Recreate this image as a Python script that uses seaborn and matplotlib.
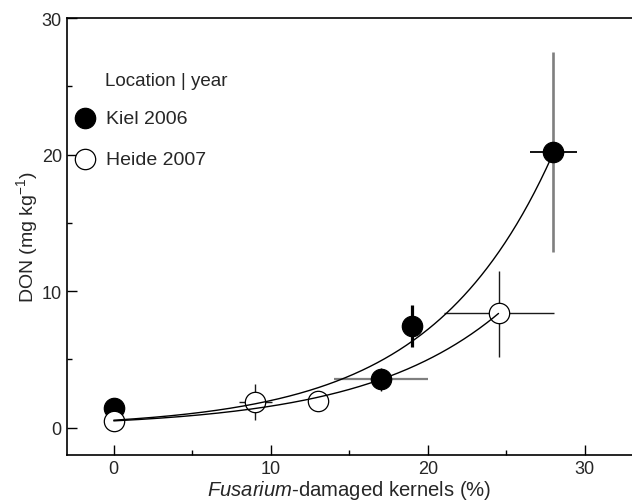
import numpy as np
import matplotlib
matplotlib.use("Agg")
import matplotlib.pyplot as plt
import seaborn as sns
from matplotlib.ticker import MultipleLocator

# ---------------- data ----------------
kiel_x = [0, 17, 19, 28]
kiel_y = [1.46, 3.54, 7.44, 20.2]
kiel_xlo = [np.nan, 14.0, np.nan, 26.5]
kiel_xhi = [np.nan, 20.0, np.nan, 29.5]
kiel_ylo = [np.nan, 2.7, 5.9, 12.9]
kiel_yhi = [np.nan, 4.4, 9.0, 27.5]

heide_x = [0, 9, 13, 24.5]
heide_y = [0.49, 1.88, 1.93, 8.37]
heide_xlo = [np.nan, 7.95, np.nan, 21.05]
heide_xhi = [np.nan, 10.05, np.nan, 28.05]
heide_ylo = [np.nan, 0.56, np.nan, 5.2]
heide_yhi = [np.nan, 3.17, np.nan, 11.5]

# exponential fit parameters y = a * exp(b * x)
kiel_fit = (0.55, 0.1286)
heide_fit = (0.5, 0.115)

series_labels = ["Kiel 2006", "Heide 2007"]
legend_title = "Location | year"
x_ticks = [0, 10, 20, 30]
y_ticks = [0, 10, 20, 30]
x_label = r"$\mathit{Fusarium}$-damaged kernels (%)"
y_label = r"DON (mg kg$^{-1}$)"

# ---------------- styles ----------------
kiel_xerr_colors = ["black", "#7f7f7f", "black", "black"]
kiel_xerr_widths = [1.0, 1.6, 1.0, 1.3]
kiel_yerr_colors = ["black", "black", "black", "#7f7f7f"]
kiel_yerr_widths = [1.0, 1.0, 2.3, 1.9]

sns.set_style("ticks")
plt.rcParams["font.family"] = ["Liberation Sans", "DejaVu Sans"]
plt.rcParams["mathtext.fontset"] = "custom"
plt.rcParams["mathtext.rm"] = "Liberation Sans"
plt.rcParams["mathtext.it"] = "Liberation Sans:italic"
plt.rcParams["mathtext.default"] = "regular"

fig = plt.figure(figsize=(6.32, 5.02), dpi=100)
ax = fig.add_axes([0.1055, 0.0916, 0.8945, 0.8704])

# error bars
ax.hlines(kiel_y, kiel_xlo, kiel_xhi, colors=kiel_xerr_colors,
          linewidths=kiel_xerr_widths, zorder=2)
ax.vlines(kiel_x, kiel_ylo, kiel_yhi, colors=kiel_yerr_colors,
          linewidths=kiel_yerr_widths, zorder=2)
ax.hlines(heide_y, heide_xlo, heide_xhi, colors="#1a1a1a", linewidths=1.0, zorder=2)
ax.vlines(heide_x, heide_ylo, heide_yhi, colors="#1a1a1a", linewidths=1.0, zorder=2)

# markers
sns.scatterplot(x=kiel_x, y=kiel_y, ax=ax, color="black", edgecolor="black",
                s=215, linewidth=0.9, zorder=3, label=series_labels[0])
sns.scatterplot(x=heide_x, y=heide_y, ax=ax, color="white", edgecolor="black",
                s=215, linewidth=0.9, zorder=4, label=series_labels[1])

# fitted curves
xs_k = np.linspace(0, max(kiel_x), 300)
xs_h = np.linspace(0, max(heide_x), 300)
sns.lineplot(x=xs_k, y=kiel_fit[0] * np.exp(kiel_fit[1] * xs_k), ax=ax,
             color="black", linewidth=1.0, zorder=5)
sns.lineplot(x=xs_h, y=heide_fit[0] * np.exp(heide_fit[1] * xs_h), ax=ax,
             color="black", linewidth=1.0, zorder=5)

# axes
ax.set_xlim(-3, 33)
ax.set_ylim(-2, 30)
ax.set_xticks(x_ticks)
ax.set_yticks(y_ticks)
ax.xaxis.set_minor_locator(MultipleLocator(5))
ax.yaxis.set_minor_locator(MultipleLocator(5))
ax.tick_params(which="major", direction="in", length=7, width=1.0,
               labelsize=13, pad=3.5, color="black")
ax.tick_params(which="minor", direction="in", length=3.5, width=1.0, color="black")
ax.spines["right"].set_visible(False)
for s in ["left", "bottom", "top"]:
    ax.spines[s].set_linewidth(1.2)
    ax.spines[s].set_color("black")

ax.set_xlabel(x_label, fontsize=14.6, labelpad=1)
ax.set_ylabel(y_label, fontsize=14, labelpad=1)

# legend
handles, labels = ax.get_legend_handles_labels()
ax.legend(handles, labels, loc="upper left", bbox_to_anchor=(0.016, 0.791),
          borderpad=0, borderaxespad=0, frameon=False, handlelength=1.0,
          handletextpad=0.55, labelspacing=1.2, fontsize=14, scatterpoints=1)
ax.text(0.068, 0.856, legend_title, transform=ax.transAxes, fontsize=13.5,
        va="center", ha="left")

fig.savefig("out.png", dpi=100)
